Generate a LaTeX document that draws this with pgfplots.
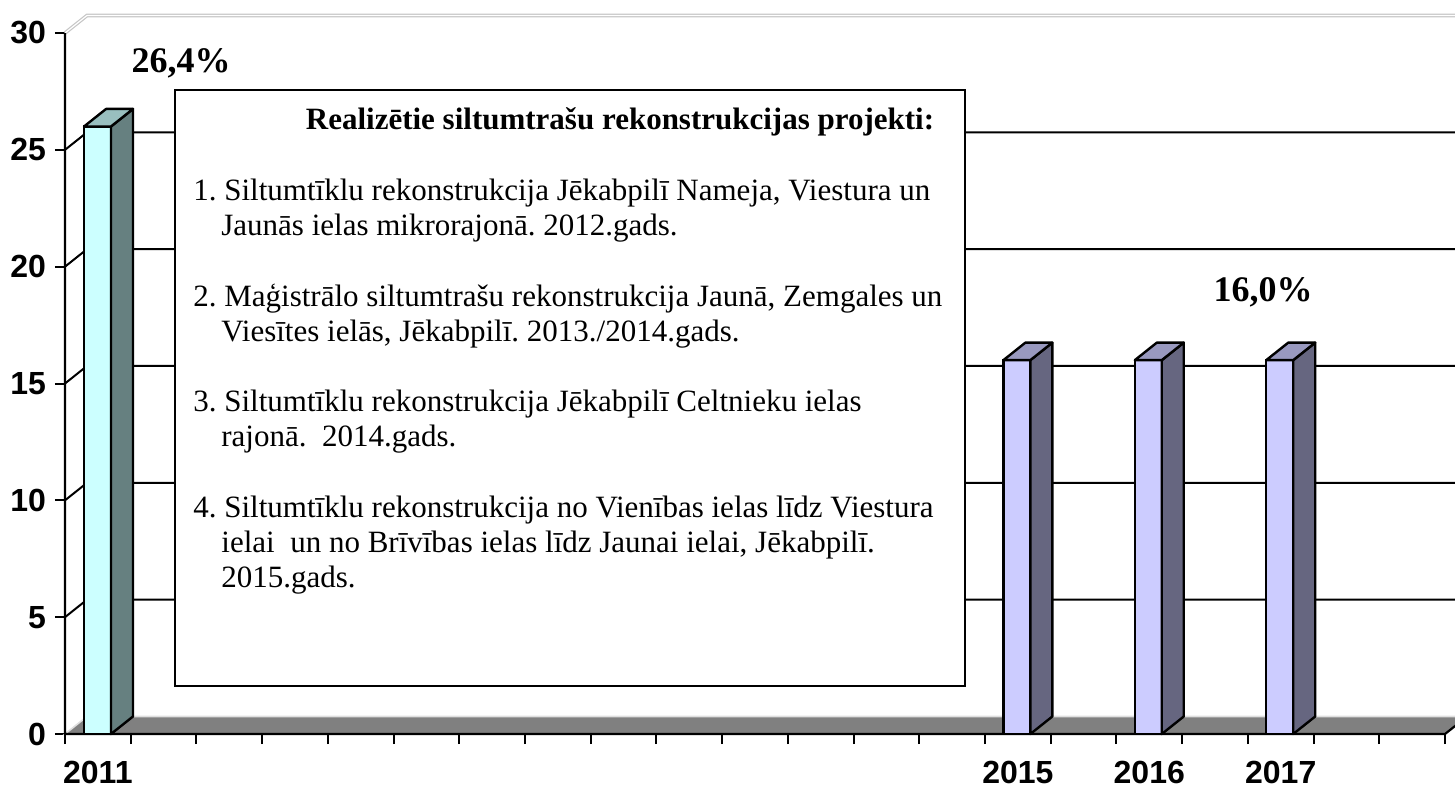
\documentclass[border=0pt]{standalone}
\usepackage{pgfplots}
\pgfplotsset{compat=1.18}
\usepackage{fontspec}
\setmainfont{Liberation Serif}
\newfontfamily\arial{Liberation Sans}
\definecolor{cyanF}{HTML}{CCFFFF}
\definecolor{cyanS}{HTML}{668080}
\definecolor{cyanT}{HTML}{99BFBF}
\definecolor{lavF}{HTML}{CCCCFF}
\definecolor{lavS}{HTML}{666680}
\definecolor{lavT}{HTML}{9999BF}
\definecolor{floorG}{HTML}{808080}
\newcommand\pp[2]{({(#1-65)*0.5pt},{(734-#2)*0.5pt})}
\newcommand\fsz{\fontsize{15.5}{15.5}\selectfont}
\frenchspacing
\begin{document}
\begin{tikzpicture}
\useasboundingbox (-32.5pt,-27pt) rectangle (695pt,367pt);
\clip (-32.5pt,-27pt) rectangle (695pt,367pt);
\begin{axis}[
  at={(0pt,0pt)}, anchor=south west,
  scale only axis, width=690pt, height=350.5pt,
  xmin=0, xmax=21, ymin=0, ymax=30,
  clip=false,
  axis line style={draw=none},
  tick pos=left,
  tick align=outside,
  major tick length=5pt,
  tick style={black, line width=1pt},
  xtick={0,1,...,21}, xticklabels={},
  extra x ticks={0.5,14.5,16.5,18.5},
  extra x tick labels={2011,2015,2016,2017},
  extra x tick style={major tick length=0pt},
  ytick={0,5,...,30},
  /pgf/number format/assume math mode=true,
  ticklabel style={font=\arial\bfseries\fontsize{16}{16}\selectfont},
  xticklabel style={yshift=-10pt},
  yticklabel style={xshift=-1pt},
]
% back wall and left wall grid lines
\draw[black, line width=1pt] (axis cs:0,5) -- (axis cs:0.335,5.75) -- (axis cs:21.6,5.75);
\draw[black, line width=1pt] (axis cs:0,10) -- (axis cs:0.335,10.75) -- (axis cs:21.6,10.75);
\draw[black, line width=1pt] (axis cs:0,15) -- (axis cs:0.335,15.75) -- (axis cs:21.6,15.75);
\draw[black, line width=1pt] (axis cs:0,20) -- (axis cs:0.335,20.75) -- (axis cs:21.6,20.75);
\draw[black, line width=1pt] (axis cs:0,25) -- (axis cs:0.335,25.75) -- (axis cs:21.6,25.75);
\draw[gray!45, line width=0.6pt, double=white, double distance=0.6pt] (axis cs:0,30) -- (axis cs:0.335,30.75) -- (axis cs:21.6,30.75);
% floor
\addplot[fill=floorG, draw=gray!25, line width=0.8pt] coordinates {(0,0) (21,0) (21.335,0.75) (0.335,0.75)} -- cycle;
% axis lines
\draw[black, line width=1.1pt] (axis cs:0,30) -- (axis cs:0,0) -- (axis cs:21,0) -- (axis cs:21.335,0.75);
% bar 2011 (26)
\addplot[fill=cyanF, draw=black, line width=1.2pt] coordinates {(0.29,0) (0.70,0) (0.70,26) (0.29,26)} -- cycle;
\addplot[fill=cyanS, draw=black, line width=1.2pt, line join=round] coordinates {(0.70,0) (1.035,0.75) (1.035,26.75) (0.70,26)} -- cycle;
\addplot[fill=cyanT, draw=black, line width=1.2pt, line join=round] coordinates {(0.29,26) (0.70,26) (1.035,26.75) (0.625,26.75)} -- cycle;
% bar 2015 (16)
\addplot[fill=lavF, draw=black, line width=1.2pt] coordinates {(14.28,0) (14.69,0) (14.69,16) (14.28,16)} -- cycle;
\addplot[fill=lavS, draw=black, line width=1.2pt, line join=round] coordinates {(14.69,0) (15.025,0.75) (15.025,16.75) (14.69,16)} -- cycle;
\addplot[fill=lavT, draw=black, line width=1.2pt, line join=round] coordinates {(14.28,16) (14.69,16) (15.025,16.75) (14.615,16.75)} -- cycle;
% bar 2016 (16)
\addplot[fill=lavF, draw=black, line width=1.2pt] coordinates {(16.28,0) (16.69,0) (16.69,16) (16.28,16)} -- cycle;
\addplot[fill=lavS, draw=black, line width=1.2pt, line join=round] coordinates {(16.69,0) (17.025,0.75) (17.025,16.75) (16.69,16)} -- cycle;
\addplot[fill=lavT, draw=black, line width=1.2pt, line join=round] coordinates {(16.28,16) (16.69,16) (17.025,16.75) (16.615,16.75)} -- cycle;
% bar 2017 (16)
\addplot[fill=lavF, draw=black, line width=1.2pt] coordinates {(18.28,0) (18.69,0) (18.69,16) (18.28,16)} -- cycle;
\addplot[fill=lavS, draw=black, line width=1.2pt, line join=round] coordinates {(18.69,0) (19.025,0.75) (19.025,16.75) (18.69,16)} -- cycle;
\addplot[fill=lavT, draw=black, line width=1.2pt, line join=round] coordinates {(18.28,16) (18.69,16) (19.025,16.75) (18.615,16.75)} -- cycle;
\end{axis}
% text box
\draw[black, line width=0.8pt, fill=white] \pp{175}{90} rectangle \pp{965}{686};
\node[anchor=base, inner sep=0pt, font=\bfseries\fsz] at \pp{620}{130} {Realizētie siltumtrašu rekonstrukcijas projekti:};
\begin{scope}[every node/.style={anchor=base west, inner sep=0pt, font=\fsz}]
\node at \pp{193}{200.7} {1. Siltumtīklu rekonstrukcija Jēkabpilī Nameja, Viestura un};
\node at \pp{221}{235.8} {Jaunās ielas mikrorajonā. 2012.gads.};
\node at \pp{193}{306} {2. Maģistrālo siltumtrašu rekonstrukcija Jaunā, Zemgales un};
\node at \pp{221}{341} {Viesītes ielās, Jēkabpilī. 2013./2014.gads.};
\node at \pp{193}{411.5} {3. Siltumtīklu rekonstrukcija Jēkabpilī Celtnieku ielas};
\node at \pp{221}{446.6} {rajonā.\ \ 2014.gads.};
\node at \pp{193}{517} {4. Siltumtīklu rekonstrukcija no Vienības ielas līdz Viestura};
\node at \pp{221}{552} {ielai\ \ un no Brīvības ielas līdz Jaunai ielai, Jēkabpilī.};
\node at \pp{221}{587} {2015.gads.};
\end{scope}
% value labels
\node[anchor=base, inner sep=0pt, font=\bfseries\fontsize{18}{18}\selectfont] at \pp{181}{73} {26,4\%};
\node[anchor=base, inner sep=0pt, font=\bfseries\fontsize{18}{18}\selectfont] at \pp{1263}{302} {16,0\%};
\end{tikzpicture}
\end{document}
